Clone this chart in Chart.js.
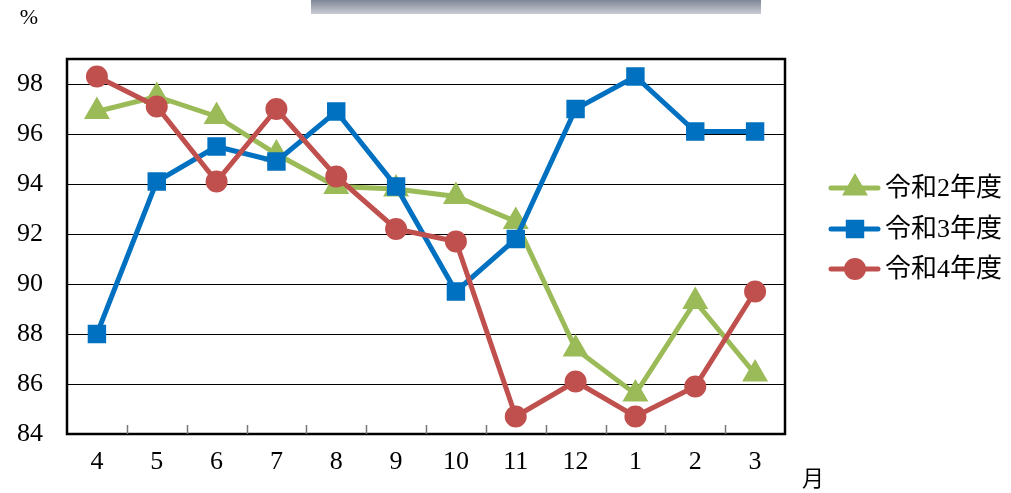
<!DOCTYPE html>
<html lang="ja">
<head>
<meta charset="UTF-8">
<title>令和2〜4年度</title>
<script src="https://cdn.jsdelivr.net/npm/chart.js"></script>
<style>
  body { margin: 0; background: #ffffff; }
  #wrap { position: relative; width: 1011px; height: 493px; }
</style>
</head>
<body>
<div id="wrap"><canvas id="chart" width="1011" height="493"></canvas></div>
<script>
// 月
const months = ['4', '5', '6', '7', '8', '9', '10', '11', '12', '1', '2', '3'];
// 系列名
const seriesNames = ['令和2年度', '令和3年度', '令和4年度'];
// 値 (%)
const r2 = [96.9, 97.5, 96.7, 95.2, 93.9, 93.8, 93.5, 92.5, 87.4, 85.6, 89.3, 86.4];
const r3 = [88.0, 94.1, 95.5, 94.9, 96.9, 93.9, 89.7, 91.8, 97.0, 98.3, 96.1, 96.1];
const r4 = [98.3, 97.1, 94.1, 97.0, 94.3, 92.2, 91.7, 84.7, 86.1, 84.7, 85.9, 89.7];
// 目盛り
const yTicks = [84, 86, 88, 90, 92, 94, 96, 98];
const yMin = 84, yMax = 99;

const FONT = "'Liberation Serif', 'Noto Sans CJK JP', serif";

const styles = [
  { color: '#9BBB59', pointStyle: 'triangle', radius: 10, order: 3 },
  { color: '#0070C0', pointStyle: 'rect', radius: 9.5, order: 2 },
  { color: '#C0504D', pointStyle: 'circle', radius: 8.5, order: 1 }
];

const datasets = [r2, r3, r4].map((vals, i) => ({
  label: seriesNames[i],
  data: vals,
  borderColor: styles[i].color,
  backgroundColor: styles[i].color,
  pointBackgroundColor: styles[i].color,
  pointBorderColor: styles[i].color,
  pointStyle: styles[i].pointStyle,
  pointRadius: styles[i].radius,
  pointHoverRadius: styles[i].radius,
  borderWidth: 5,
  tension: 0,
  fill: false,
  order: styles[i].order
}));

// 枠・目盛り・凡例などを描く
const decor = {
  id: 'decor',
  afterDraw(chart) {
    const ctx = chart.ctx;
    const a = chart.chartArea;
    const x = chart.scales.x;
    ctx.save();
    // 枠
    ctx.strokeStyle = '#000';
    ctx.lineWidth = 2.5;
    ctx.strokeRect(a.left, a.top, a.right - a.left, a.bottom - a.top);
    // x軸の内向き目盛り
    ctx.strokeStyle = '#777';
    ctx.lineWidth = 1.5;
    for (let i = 1; i < months.length; i++) {
      const px = Math.round((x.getPixelForValue(i - 1) + x.getPixelForValue(i)) / 2) + 0.5;
      ctx.beginPath();
      ctx.moveTo(px, a.bottom - 9);
      ctx.lineTo(px, a.bottom);
      ctx.stroke();
    }
    // タイトル帯 (上で切れている)
    const g = ctx.createLinearGradient(0, 0, 0, 14);
    g.addColorStop(0, '#7f8797');
    g.addColorStop(1, '#c9ccd3');
    ctx.fillStyle = g;
    ctx.fillRect(311, 0, 450, 14);
    // 単位
    ctx.fillStyle = '#000';
    ctx.textAlign = 'center';
    ctx.textBaseline = 'middle';
    ctx.font = '22px ' + FONT;
    ctx.fillText('%', 29, 18);
    ctx.font = '22px ' + FONT;
    ctx.fillText('月', 813, 480);
    // 凡例
    const ys = [188, 229, 269];
    chart.data.datasets.forEach((ds, i) => {
      const y = ys[i];
      ctx.strokeStyle = ds.borderColor;
      ctx.lineWidth = 5;
      ctx.lineCap = 'round';
      ctx.beginPath();
      ctx.moveTo(831, y);
      ctx.lineTo(878, y);
      ctx.stroke();
      ctx.fillStyle = ds.borderColor;
      ctx.strokeStyle = ds.borderColor;
      Chart.helpers.drawPoint(ctx, {
        pointStyle: ds.pointStyle, radius: ds.pointRadius, rotation: 0, borderWidth: 1
      }, 855, y);
      ctx.fillStyle = '#000';
      ctx.textAlign = 'left';
      ctx.font = '26px ' + FONT;
      ctx.fillText(ds.label, 885, y + 1);
    });
    ctx.restore();
  }
};

new Chart(document.getElementById('chart').getContext('2d'), {
  type: 'line',
  data: { labels: months, datasets: datasets },
  plugins: [decor],
  options: {
    responsive: false,
    animation: false,
    layout: { padding: { top: 59, right: 226, left: 0, bottom: 0 } },
    plugins: { legend: { display: false }, tooltip: { enabled: false } },
    scales: {
      x: {
        offset: true,
        grid: { display: false, drawTicks: false },
        border: { display: false },
        ticks: { color: '#000', font: { family: FONT, size: 26 }, padding: 13, maxRotation: 0 },
        afterFit(s) { s.height = 59; }
      },
      y: {
        min: yMin,
        max: yMax,
        grid: { color: '#000', lineWidth: 1, drawTicks: false },
        border: { display: false },
        ticks: { color: '#000', font: { family: FONT, size: 26 }, padding: 24 },
        afterBuildTicks(s) { s.ticks = yTicks.map(v => ({ value: v })); },
        afterFit(s) { s.width = 67; }
      }
    }
  }
});
</script>
</body>
</html>
